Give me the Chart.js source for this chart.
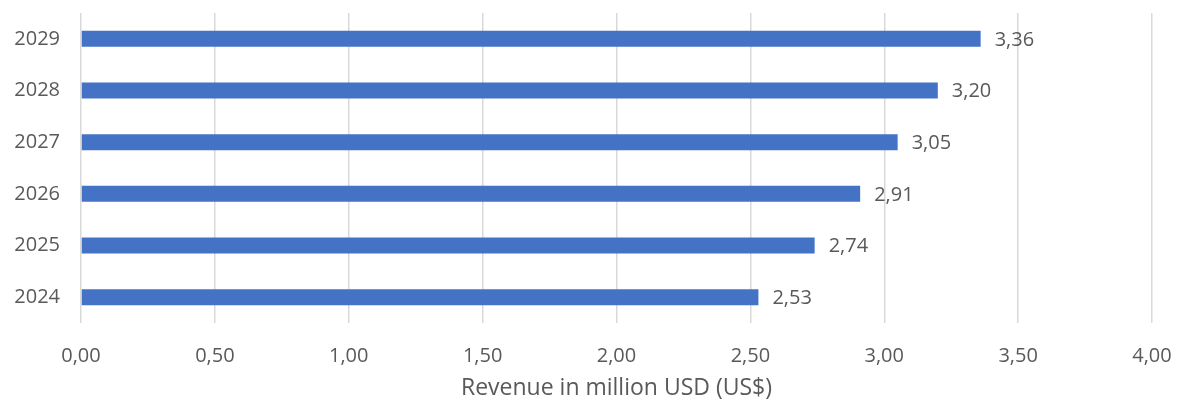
<!DOCTYPE html>
<html lang="en">
<head>
    <meta charset="UTF-8">
    <title>Revenue forecast</title>
    <script src="https://cdn.jsdelivr.net/npm/chart.js"></script>
    <style>
        html, body { margin: 0; padding: 0; background: #fff; }
        #wrap { width: 1183px; height: 407px; }
    </style>
</head>
<body>
    <div id="wrap"><canvas id="revenueChart"></canvas></div>

    <script>
        const years = ['2024', '2025', '2026', '2027', '2028', '2029'];
        const revenue = [2.53, 2.74, 2.91, 3.05, 3.20, 3.36];
        const xTicks = [0, 0.5, 1, 1.5, 2, 2.5, 3, 3.5, 4];

        const textColor = '#595959';
        const fontFamily = '"Open Sans", sans-serif';

        // comma decimal, two places
        const fmt = v => v.toFixed(2).replace('.', ',');

        // value labels to the right of each bar
        const barLabels = {
            id: 'barLabels',
            afterDatasetsDraw(chart) {
                const ctx = chart.ctx;
                const meta = chart.getDatasetMeta(0);
                ctx.save();
                ctx.font = '20px ' + fontFamily;
                ctx.fillStyle = textColor;
                ctx.textAlign = 'left';
                ctx.textBaseline = 'middle';
                meta.data.forEach((bar, i) => {
                    ctx.fillText(fmt(revenue[i]), bar.x + 14, bar.y + 1);
                });
                ctx.restore();
            }
        };

        new Chart(document.getElementById('revenueChart'), {
            type: 'bar',
            data: {
                labels: years,
                datasets: [{
                    data: revenue,
                    backgroundColor: '#4472C4',
                    borderWidth: 0,
                    barPercentage: 0.31,
                    categoryPercentage: 1
                }]
            },
            options: {
                indexAxis: 'y',
                responsive: true,
                maintainAspectRatio: false,
                animation: false,
                layout: { padding: { top: 13, right: 31, left: 0, bottom: 0 } },
                plugins: {
                    legend: { display: false },
                    tooltip: { enabled: false }
                },
                scales: {
                    y: {
                        reverse: true,
                        grid: { display: false, drawTicks: false },
                        border: { display: false },
                        ticks: {
                            color: textColor,
                            font: { family: fontFamily, size: 20 },
                            padding: 21
                        },
                        afterFit(scale) {
                            scale.width = 81;
                            scale.paddingTop = 0;
                            scale.paddingBottom = 0;
                        }
                    },
                    x: {
                        min: 0,
                        max: 4,
                        afterBuildTicks(scale) {
                            scale.ticks = xTicks.map(v => ({ value: v }));
                        },
                        grid: {
                            color: '#d9d9d9',
                            lineWidth: 1.5,
                            drawTicks: false
                        },
                        border: { display: false },
                        ticks: {
                            color: textColor,
                            font: { family: fontFamily, size: 20 },
                            padding: 21,
                            callback: v => fmt(v)
                        },
                        title: {
                            display: true,
                            text: 'Revenue in million USD (US$)',
                            color: textColor,
                            font: { family: fontFamily, size: 23 },
                            padding: { top: 0, bottom: 5 }
                        },
                        afterFit(scale) {
                            scale.height = 84;
                            scale.paddingLeft = 0;
                            scale.paddingRight = 0;
                        }
                    }
                }
            },
            plugins: [barLabels]
        });
    </script>
</body>
</html>
